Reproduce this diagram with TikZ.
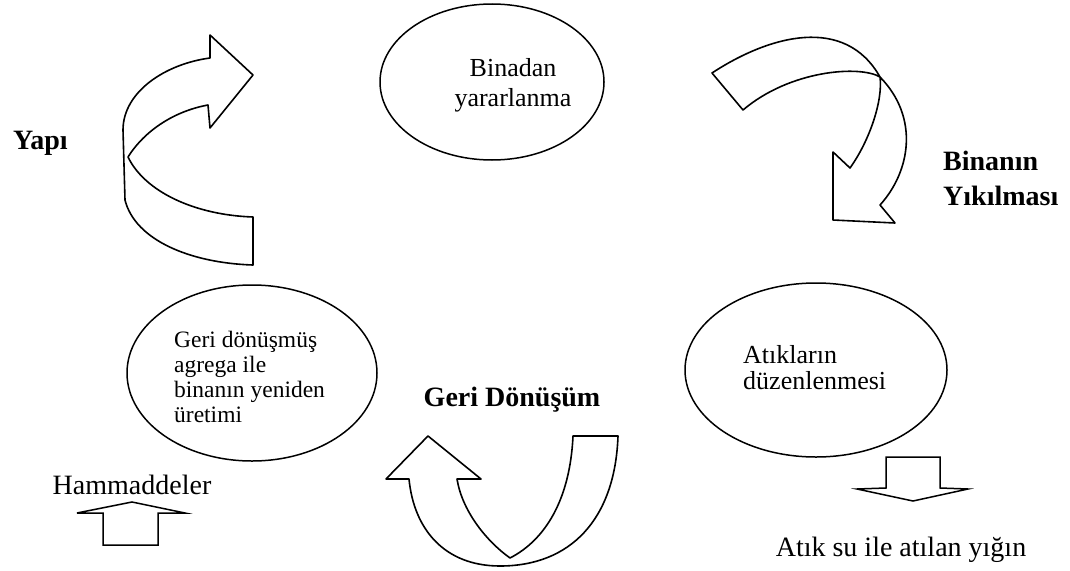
\documentclass[tikz,border=0pt]{standalone}
\usepackage{fontspec}
\setmainfont{Liberation Serif}
\usetikzlibrary{shapes.geometric}
\begin{document}
\begin{tikzpicture}[x=1pt,y=-1pt,
  oval/.style={ellipse,draw,line width=1.5pt,inner sep=0pt},
  ribbon/.style={draw,line width=1.6pt,line join=round,fill=white},
  blockarrow/.style={draw,line width=1.5pt,line join=miter},
  intext/.style={inner sep=0pt},
  boldlabel/.style={inner sep=0pt,font=\fontsize{28}{35}\selectfont\bfseries},
  plainlabel/.style={inner sep=0pt,font=\fontsize{28}{30}\selectfont}]
\useasboundingbox (0,0) rectangle (1070,570);
% ellipses
\node[oval,minimum width=224pt,minimum height=156pt] (use) at (492,82) {};
\node[oval,minimum width=250pt,minimum height=176pt] (rebuild) at (252,373) {};
\node[oval,minimum width=262pt,minimum height=174pt] (waste) at (816,370) {};
% ellipse texts
\node[intext,align=center,font=\fontsize{26}{30}\selectfont] (usetext) at (513,85) {Binadan\\yararlanma};
\node[intext,align=left,anchor=west,font=\fontsize{23.5}{25}\selectfont] (rebuildtext) at (174,377) {Geri dönüşmüş\\agrega ile\\binanın yeniden\\üretimi};
\node[intext,align=left,anchor=west,font=\fontsize{26}{26}\selectfont] (wastetext) at (743,368) {Atıkların\\düzenlenmesi};
% labels
\node[boldlabel,anchor=west] (yapi) at (13,143) {Yapı};
\node[boldlabel,anchor=west,align=left] (yikim) at (943,178) {Binanın\\Yıkılması};
\node[boldlabel] (geri) at (512,400) {Geri Dönüşüm};
\node[plainlabel] (ham) at (132,485) {Hammaddeler};
\node[plainlabel] (atik) at (901,550) {Atık su ile atılan yığın};
% left ribbon arrow (Yapi)
\draw[ribbon] (210,58) .. controls (165,64) and (123,92) .. (123,130)
  -- (125,200) .. controls (135,240) and (190,263) .. (253,265)
  -- (253,217) .. controls (195,215) and (145,192) .. (128,157)
  .. controls (145,130) and (175,111) .. (208,105)
  -- (210,128) -- (253,75) -- (210,35) -- cycle;
% right ribbon arrow (Yikilma)
\draw[ribbon] (712,73) .. controls (770,35) and (845,15) .. (880,77)
  .. controls (883,100) and (870,140) .. (850,168)
  -- (833,152) -- (833,220) -- (895,223) -- (880,205)
  .. controls (910,172) and (920,118) .. (880,77)
  .. controls (860,65) and (790,70) .. (743,110) -- cycle;
% bottom ribbon arrow (Geri donusum)
\draw[ribbon] (409,479) .. controls (414,530) and (445,566) .. (500,566)
  .. controls (570,566) and (615,520) .. (618,436)
  -- (573,436) .. controls (570,500) and (545,540) .. (510,558)
  .. controls (485,540) and (462,510) .. (457,479)
  -- (481,479) -- (428,436) -- (386,479) -- cycle;
% block arrow up (Hammaddeler)
\draw[blockarrow] (103,545) -- (103,513) -- (77,513) -- (132,502) -- (185,513) -- (158,513) -- (158,545) -- cycle;
% block arrow down (Atik)
\draw[blockarrow] (886,457) -- (886,488) -- (857,489) -- (913,501) -- (968,489) -- (940,488) -- (940,457) -- cycle;
\end{tikzpicture}
\end{document}
